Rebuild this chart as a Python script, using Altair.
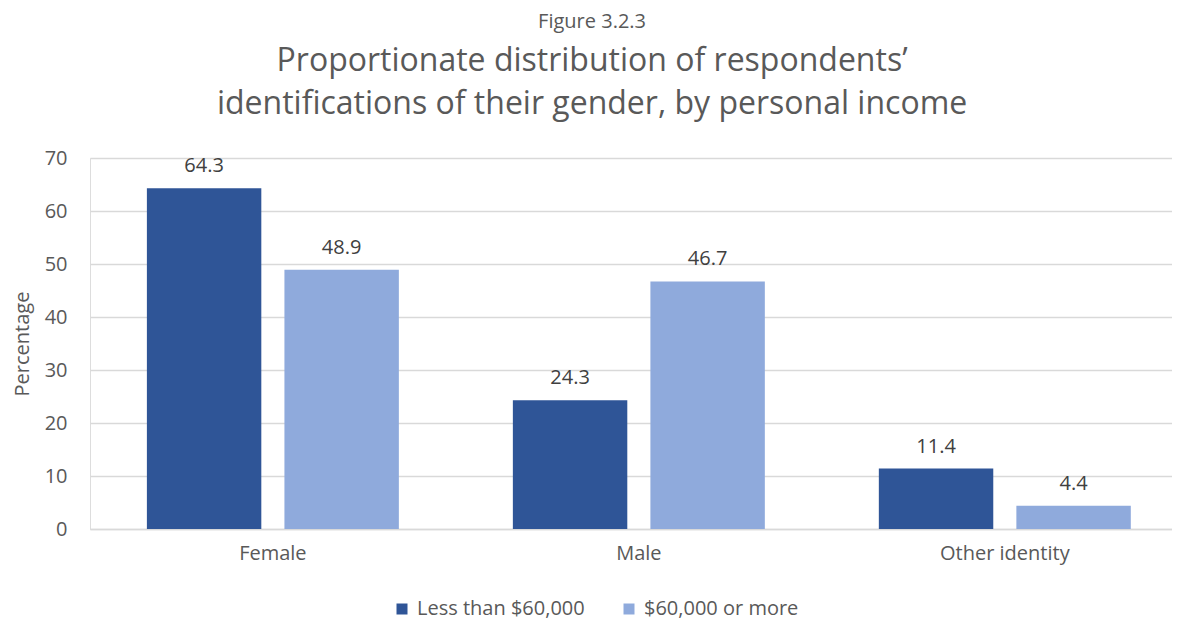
import altair as alt
import pandas as pd

categories = ["Female", "Male", "Other identity"]
series = ["Less than $60,000", "$60,000 or more"]
less_than_60k = [64.3, 24.3, 11.4]
sixty_k_or_more = [48.9, 46.7, 4.4]
colors = ["#2F5597", "#8FAADC"]

rows = []
for c, a, b in zip(categories, less_than_60k, sixty_k_or_more):
    rows.append({"category": c, "series": series[0], "value": a})
    rows.append({"category": c, "series": series[1], "value": b})
df = pd.DataFrame(rows)

FONT = "Open Sans"
GREY = "#595959"
FS = 20

x = alt.X("category:N", sort=categories, title=None,
          scale=alt.Scale(paddingInner=0.3115, paddingOuter=0.134, align=0.58),
          axis=alt.Axis(labelAngle=0, labelFontSize=FS, labelColor=GREY, labelFont=FONT,
                        ticks=False, domainColor="#D9D9D9", domainWidth=1.5, labelPadding=14))
y = alt.Y("value:Q", title="Percentage",
          scale=alt.Scale(domain=[0, 70], nice=False),
          axis=alt.Axis(values=list(range(0, 71, 10)), labelFontSize=FS, labelColor=GREY,
                        labelFont=FONT, titleFont=FONT, titleFontSize=FS, titleColor=GREY,
                        titleFontWeight="normal", ticks=False, domain=False,
                        gridColor="#D9D9D9", gridWidth=1.5, labelPadding=23, titlePadding=12))
xo = alt.XOffset("series:N", sort=series, scale=alt.Scale(paddingInner=0.168, paddingOuter=0))
color = alt.Color("series:N", sort=series, scale=alt.Scale(domain=series, range=colors),
                  legend=alt.Legend(title=None, orient="none", legendX=302, legendY=441,
                                    direction="horizontal",
                                    symbolType="square", symbolSize=121, symbolStrokeWidth=0,
                                    symbolOffset=0, labelOffset=5, labelLimit=400,
                                    labelFontSize=FS, labelColor=GREY, labelFont=FONT,
                                    columnPadding=34))

base = alt.Chart(df).encode(x=x, y=y, xOffset=xo)
bars = base.mark_bar().encode(color=color)
labels = base.mark_text(dy=-22, fontSize=FS, color="#404040", font=FONT).encode(
    text=alt.Text("value:Q", format=".1f"))

chart = alt.layer(bars, labels).properties(
    width=1082, height=371,
    autosize=alt.AutoSizeParams(type="none"),
    padding={"left": 82, "top": 150, "right": 0, "bottom": 94},
    title=alt.TitleParams(
        text="Figure 3.2.3",
        subtitle=["Proportionate distribution of respondents’",
                  "identifications of their gender, by personal income"],
        fontSize=FS, font=FONT, fontWeight="normal", color=GREY,
        subtitleFont=FONT, subtitleFontSize=32, subtitleColor=GREY,
        subtitleLineHeight=43, subtitlePadding=14,
        anchor="middle", frame="bounds", offset=28)
).configure_view(strokeWidth=0).configure(background="white")

chart.save("out.html", embed_options={"renderer": "svg", "actions": False})
